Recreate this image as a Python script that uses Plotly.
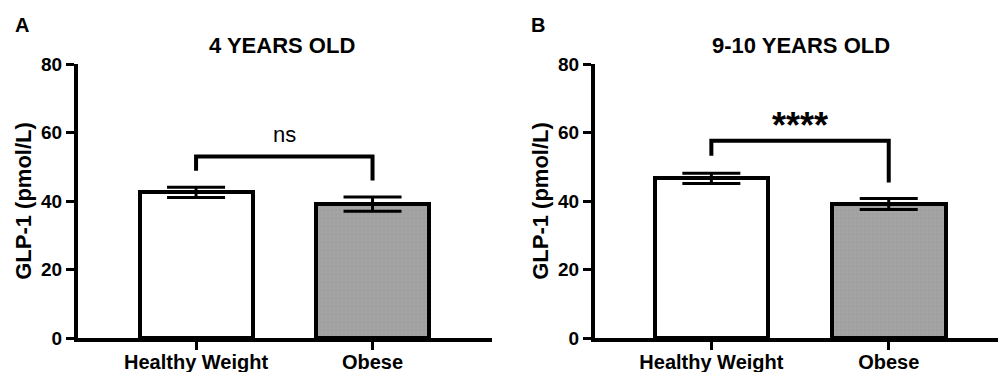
import plotly.graph_objects as go

# ---------------- data ----------------
categories = ["Healthy Weight", "Obese"]
panel_titles = ["4 YEARS OLD", "9-10 YEARS OLD"]
panel_letters = ["A", "B"]
means_4y = [42.5, 39.1]
sem_4y = [1.5, 2.1]
means_9y = [46.6, 39.1]
sem_9y = [1.5, 1.6]
bracket_4y = [48.8, 53.0, 53.0, 46.0]   # left leg bottom, top, top, right leg bottom
bracket_9y = [53.2, 57.6, 57.6, 45.4]
sig_labels = ["ns", "****"]
y_ticks = [0, 20, 40, 60, 80]
y_title = "GLP-1 (pmol/L)"

FONT = "Liberation Sans, Arial, Helvetica, sans-serif"
W, H = 998, 372

fig = go.Figure()

panels = [
    (means_4y, sem_4y, bracket_4y, "x", "y"),
    (means_9y, sem_9y, bracket_9y, "x2", "y2"),
]
xpos = [0, 1]
for means, sems, br, xa, ya in panels:
    fig.add_trace(go.Bar(
        x=xpos, y=means, width=0.64, xaxis=xa, yaxis=ya,
        marker=dict(
            color=["white", "white"],
            line=dict(color="black", width=4),
            pattern=dict(shape=["", "."], size=4, solidity=0.9,
                         fgcolor="black", bgcolor="white", fillmode="overlay"),
        ),
        error_y=dict(type="data", array=sems, visible=True,
                     color="black", thickness=3, width=29),
        showlegend=False, hoverinfo="skip",
    ))
    fig.add_trace(go.Scatter(
        x=[0, 0, 1, 1], y=br, xaxis=xa, yaxis=ya, mode="lines",
        line=dict(color="black", width=4), showlegend=False, hoverinfo="skip",
    ))

ydom = [1 - 338 / H, 1 - 64 / H]
axis_common = dict(showgrid=False, zeroline=False, showline=True, automargin=False,
                   linecolor="black", linewidth=4, ticks="outside",
                   ticklen=8, tickwidth=3, tickcolor="black")
tickfont = dict(family=FONT, size=19, color="black", weight="bold")
xtickfont = dict(family=FONT, size=20, color="black", weight="bold")
ytitle = dict(text=y_title, font=dict(family=FONT, size=22, color="black", weight="bold"),
              standoff=4)

fig.update_layout(
    width=W, height=H, autosize=False, margin=dict(l=0, r=0, t=0, b=0, autoexpand=False),
    paper_bgcolor="white", plot_bgcolor="white",
    bargap=0,
    xaxis=dict(domain=[78 / W, 492 / W], anchor="y", range=[-0.669, 1.677],
               tickvals=xpos, ticktext=categories, tickfont=xtickfont,
               ticklabelstandoff=-5, **axis_common),
    yaxis=dict(domain=ydom, anchor="x", range=[0, 80], tickvals=y_ticks,
               tickfont=tickfont, title=ytitle, **axis_common),
    xaxis2=dict(domain=[595 / W, 1.0], anchor="y2", range=[-0.656, 1.616],
                tickvals=xpos, ticktext=categories, tickfont=xtickfont,
                ticklabelstandoff=-5, **axis_common),
    yaxis2=dict(domain=ydom, anchor="x2", range=[0, 80], tickvals=y_ticks,
                tickfont=tickfont, title=ytitle, **axis_common),
)

annotations = []
for title, letter, xc, lx in zip(panel_titles, panel_letters, [282, 800.5], [21.5, 538]):
    annotations.append(dict(text=title, xref="paper", yref="paper", x=xc / W, y=1 - 45 / H,
                            xanchor="center", yanchor="middle", showarrow=False,
                            font=dict(family=FONT, size=22, color="black", weight="bold")))
    annotations.append(dict(text=letter, xref="paper", yref="paper", x=lx / W, y=1 - 25 / H,
                            xanchor="center", yanchor="middle", showarrow=False,
                            font=dict(family=FONT, size=20, color="black", weight="bold")))
annotations.append(dict(text=sig_labels[0], xref="x", yref="y", x=0.5, y=59.3,
                        xanchor="center", yanchor="middle", showarrow=False,
                        font=dict(family=FONT, size=22, color="black")))
annotations.append(dict(text=sig_labels[1], xref="x2", yref="y2", x=0.5, y=62.0,
                        xanchor="center", yanchor="middle", showarrow=False,
                        font=dict(family=FONT, size=36, color="black", weight="bold")))
fig.update_layout(annotations=annotations)

fig.write_html(
    "out.html",
    config={"responsive": False, "displayModeBar": False},
    post_script="document.body.style.margin='0';document.body.style.padding='0';"
                "document.body.style.overflow='hidden';",
)
